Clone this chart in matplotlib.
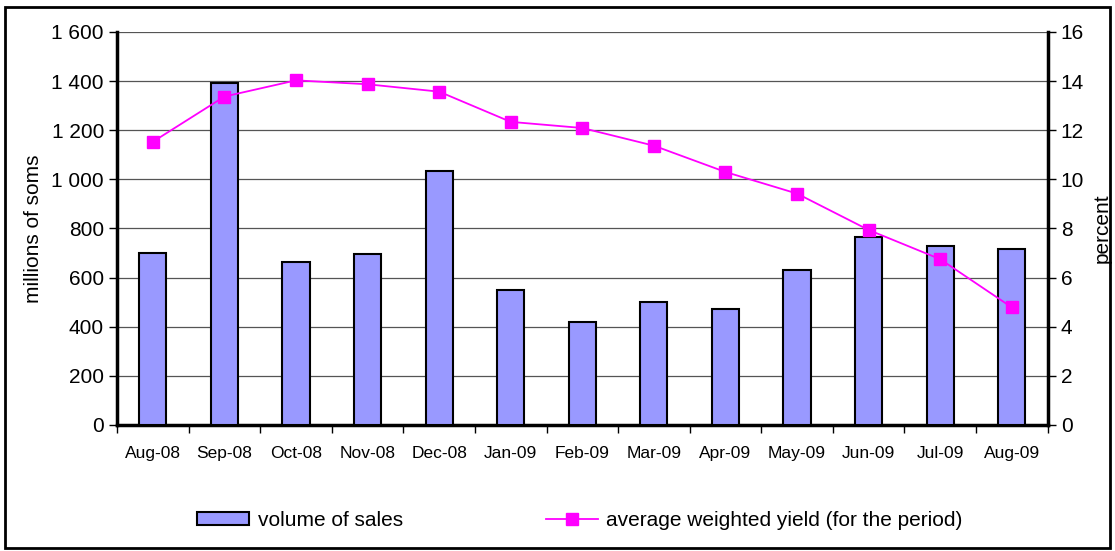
import numpy as np
import matplotlib.pyplot as plt
from matplotlib.patches import Rectangle
from matplotlib.ticker import FuncFormatter

plt.rcParams['font.family'] = ['Liberation Sans', 'DejaVu Sans']

months = ['Aug-08', 'Sep-08', 'Oct-08', 'Nov-08', 'Dec-08', 'Jan-09', 'Feb-09',
          'Mar-09', 'Apr-09', 'May-09', 'Jun-09', 'Jul-09', 'Aug-09']
sales = [701, 1394, 662, 695, 1035, 548, 418, 501, 474, 631, 767, 729, 718]
yield_pct = [11.53, 13.37, 14.03, 13.87, 13.57, 12.34, 12.09, 11.37, 10.30,
             9.42, 7.94, 6.75, 4.79]

x = np.arange(len(months))

fig = plt.figure(figsize=(11.15, 5.51), dpi=100)
ax = fig.add_axes([0.105, 0.2287, 0.8345, 0.7133])
ax2 = ax.twinx()

bars = ax.bar(x, sales, width=0.38, color='#9999ff', edgecolor='black',
              linewidth=1.5, zorder=3, label='volume of sales')
line, = ax2.plot(x, yield_pct, color='#ff00ff', marker='s', markersize=8,
                 linewidth=1.3, label='average weighted yield (for the period)')

ax.set_xlim(-0.5, len(months) - 0.5)
ax.set_ylim(0, 1600)
ax.set_yticks(range(0, 1601, 200))
ax.yaxis.set_major_formatter(FuncFormatter(lambda v, p: f'{int(v):,}'.replace(',', ' ')))
ax.grid(axis='y', color='#555555', linewidth=0.9, zorder=0)
ax.set_axisbelow(True)

ax2.set_ylim(0, 16)
ax2.set_yticks(range(0, 17, 2))

ax.set_xticks(x)
ax.set_xticklabels(months, fontsize=12.5)
ax.set_xticks(np.arange(-0.5, len(months)), minor=True)
ax.tick_params(axis='x', which='major', length=0, pad=15)
ax.tick_params(axis='x', which='minor', length=6, width=1, direction='out')
ax.tick_params(axis='y', labelsize=15, length=6, width=1, direction='out')
ax2.tick_params(axis='y', labelsize=15, length=6, width=1, direction='out')

for a in (ax, ax2):
    a.spines['top'].set_visible(False)
    for s in ('left', 'right', 'bottom'):
        a.spines[s].set_linewidth(2.5)
ax.spines['right'].set_visible(False)
ax2.spines['left'].set_visible(False)
ax2.spines['bottom'].set_visible(False)

ax.set_ylabel('millions of soms', fontsize=15, labelpad=6)
ax2.set_ylabel('percent', fontsize=15, labelpad=6)

fig.legend([bars, line], [bars.get_label(), line.get_label()],
           loc='center', bbox_to_anchor=(0.52, 1 - 520 / 551), ncol=2,
           frameon=False, fontsize=15, handlelength=2.5, handleheight=0.6,
           columnspacing=6.85, handletextpad=0.4)

fig.patches.append(Rectangle((5 / 1115, 3 / 551), 1105 / 1115, 541 / 551,
                             transform=fig.transFigure, fill=False,
                             edgecolor='black', linewidth=2))

fig.savefig('out.png', dpi=100)
